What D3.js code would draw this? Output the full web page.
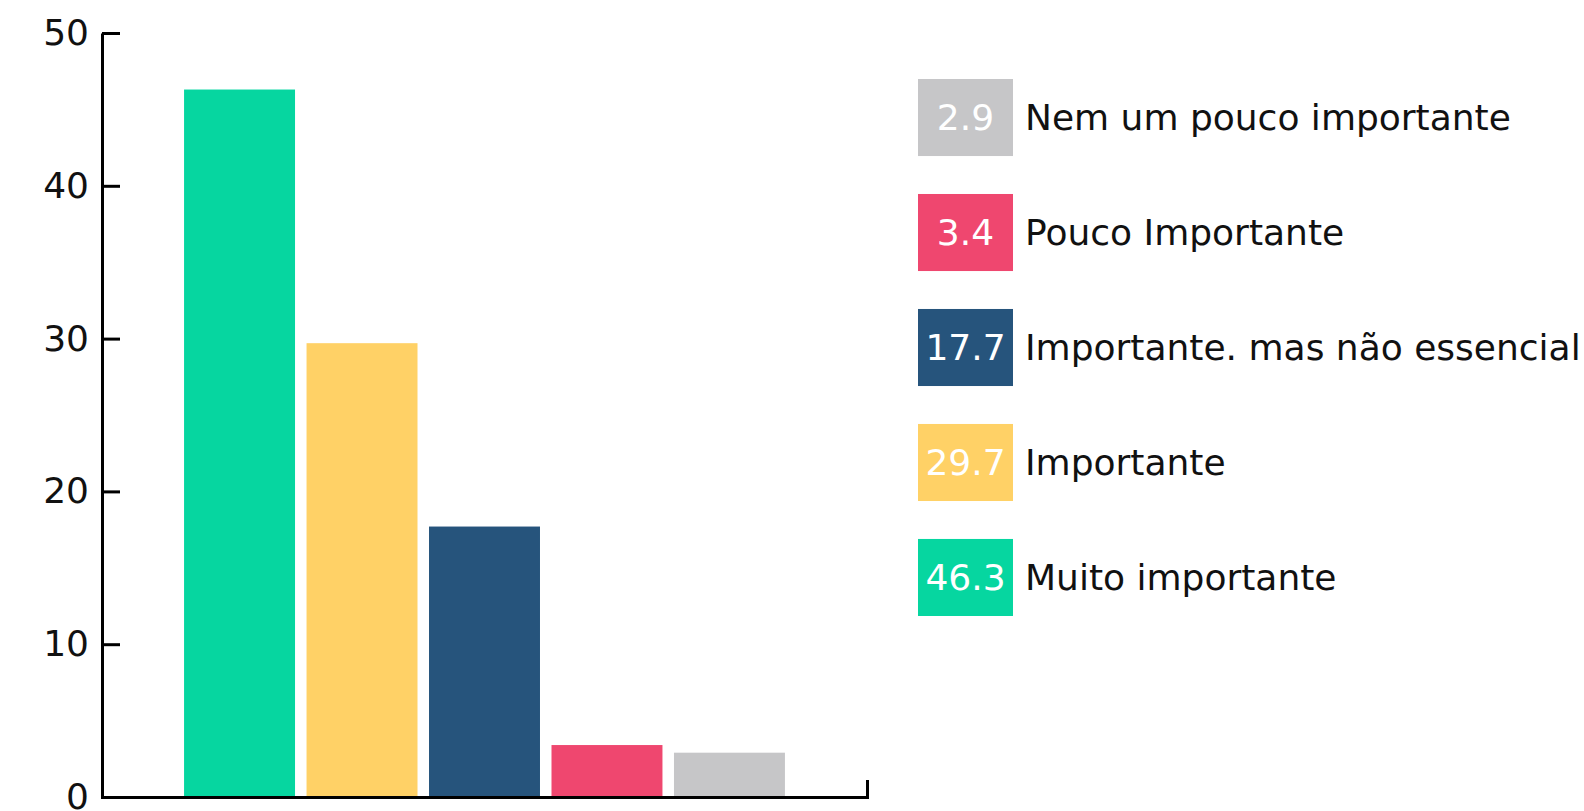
<!DOCTYPE html>
<html>
<head>
<meta charset="utf-8">
<script src="https://cdn.jsdelivr.net/npm/d3@7"></script>
<style>
  html, body { margin: 0; padding: 0; background: #fff; }
  svg { display: block; font-family: "DejaVu Sans", sans-serif; }
</style>
</head>
<body>
<svg id="chart" width="1584" height="811"></svg>
<script>
// Bar data, left to right
const categories = ["Muito importante", "Importante", "Importante. mas não essencial", "Pouco Importante", "Nem um pouco importante"];
const values = [46.3, 29.7, 17.7, 3.4, 2.9];
const colors = ["#06D6A0", "#FFD166", "#26547C", "#EF476F", "#C6C6C8"];
const yTicks = [0, 10, 20, 30, 40, 50];

const svg = d3.select('#chart');
const fontSize = 36;

// Scales
const x = d3.scaleBand().domain(categories).range([102, 867]).paddingInner(0.094).paddingOuter(0.67);
const y = d3.scaleLinear().domain([0, 50]).range([797, 33]);
const color = d3.scaleOrdinal().domain(categories).range(colors);

// Bars
svg.append('g')
  .selectAll('rect')
  .data(categories)
  .join('rect')
  .attr('x', d => x(d))
  .attr('width', x.bandwidth())
  .attr('y', (d, i) => y(values[i]))
  .attr('height', (d, i) => y(0) - y(values[i]))
  .attr('fill', d => color(d));

// Y axis (inner ticks)
const gy = svg.append('g')
  .attr('transform', 'translate(102,0)')
  .call(d3.axisLeft(y).tickValues(yTicks).tickSizeInner(-18).tickSizeOuter(0).tickPadding(13));
// X axis: only the baseline with upturned ends
const gx = svg.append('g')
  .attr('transform', `translate(0,${y(0)})`)
  .call(d3.axisBottom(x).tickValues([]).tickSizeOuter(-17));

[gy, gx].forEach(g => {
  g.selectAll('path, line').attr('stroke', '#000').attr('stroke-width', 3);
  g.selectAll('text').attr('fill', '#111').style('font-size', fontSize + 'px').style('font-family', '"DejaVu Sans", sans-serif');
});

// Legend (reverse order, top = last category)
const legendItems = categories.map((c, i) => ({ name: c, value: values[i] })).reverse();
const ly = d3.scaleBand().domain(legendItems.map(d => d.name)).range([79, 616]).paddingInner(0.33);
const boxW = 95;
const legend = svg.append('g').attr('transform', 'translate(918,0)');
const item = legend.selectAll('g').data(legendItems).join('g')
  .attr('transform', d => `translate(0,${ly(d.name)})`);
item.append('rect')
  .attr('width', boxW)
  .attr('height', ly.bandwidth())
  .attr('fill', d => color(d.name));
item.append('text')
  .attr('x', boxW / 2)
  .attr('y', ly.bandwidth() / 2)
  .attr('dy', '0.35em')
  .attr('text-anchor', 'middle')
  .attr('fill', '#fff')
  .style('font-size', fontSize + 'px')
  .text(d => d.value.toFixed(1));
item.append('text')
  .attr('x', boxW + 12)
  .attr('y', ly.bandwidth() / 2)
  .attr('dy', '0.35em')
  .attr('fill', '#111')
  .style('font-size', fontSize + 'px')
  .text(d => d.name);
</script>
</body>
</html>
